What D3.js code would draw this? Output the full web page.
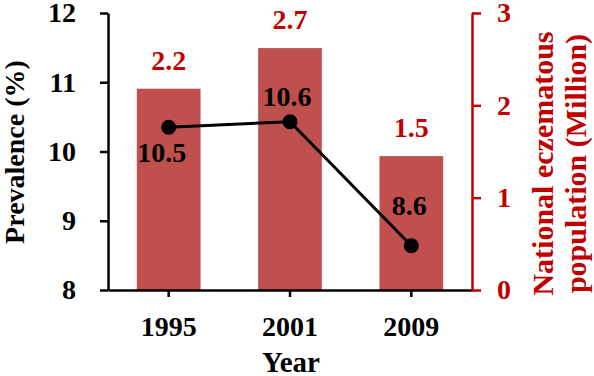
<!DOCTYPE html>
<html>
<head>
<meta charset="utf-8">
<script src="https://cdn.jsdelivr.net/npm/d3@7"></script>
<style>
  body { margin: 0; background: #fff; }
  svg { display: block; }
</style>
</head>
<body>
<div id="chart"></div>
<script>
// data
const years = ['1995', '2001', '2009'];
const population = [2.18, 2.62, 1.45];          // million, bars (right axis)
const populationLabels = ['2.2', '2.7', '1.5'];
const prevalence = [10.35, 10.43, 8.64];         // %, line (left axis)
const prevalenceLabels = ['10.5', '10.6', '8.6'];
const leftTicks = [8, 9, 10, 11, 12];
const rightTicks = [0, 1, 2, 3];

const width = 594;
const height = 376;
const margin = { top: 13, right: 122, bottom: 86, left: 108 };
const innerW = width - margin.left - margin.right;
const innerH = height - margin.top - margin.bottom;

const FONT = '"Liberation Serif"';
const barColor = '#c0504d';
const darkRed = '#c00000';

const svg = d3.select('#chart')
  .append('svg')
  .attr('width', width)
  .attr('height', height);

const g = svg.append('g')
  .attr('transform', `translate(${margin.left},${margin.top})`);

const serif = (sel, size) => sel
  .style('font-family', FONT)
  .style('font-weight', 'bold')
  .style('font-size', size + 'px');

const x = d3.scaleBand()
  .domain(years)
  .range([0, innerW])
  .padding(0);

const yL = d3.scaleLinear().domain([8, 12]).range([innerH, 0]);
const yR = d3.scaleLinear().domain([0, 3]).range([innerH, 0]);

const barW = x.bandwidth() * 0.525;

// bars
g.selectAll('.bar')
  .data(years)
  .enter().append('rect')
  .attr('class', 'bar')
  .attr('x', d => x(d) + (x.bandwidth() - barW) / 2)
  .attr('width', barW)
  .attr('y', (d, i) => yR(population[i]))
  .attr('height', (d, i) => innerH - yR(population[i]))
  .attr('fill', barColor);

// bar value labels
g.selectAll('.bar-label')
  .data(years)
  .enter().append('text')
  .attr('x', d => x(d) + x.bandwidth() / 2)
  .attr('y', (d, i) => yR(population[i]) - 19)
  .attr('text-anchor', 'middle')
  .attr('fill', darkRed)
  .call(serif, 28)
  .text((d, i) => populationLabels[i]);

// axes
const styleAxis = (sel, color) => {
  sel.attr('font-family', null).attr('font-size', null);
  sel.select('.domain').attr('stroke', color).attr('stroke-width', 2.5);
  sel.selectAll('.tick line').attr('stroke', color).attr('stroke-width', 2.5);
  sel.selectAll('.tick text')
    .attr('fill', color)
    .call(serif, 28);
};

const xAxis = g.append('g')
  .attr('transform', `translate(0,${innerH})`)
  .call(d3.axisBottom(x).tickSize(7).tickSizeOuter(0).tickPadding(19));
styleAxis(xAxis, '#000');

const leftAxis = g.append('g')
  .call(d3.axisLeft(yL).tickValues(leftTicks).tickSize(8).tickSizeOuter(0).tickPadding(24).tickFormat(d3.format('d')));
styleAxis(leftAxis, '#000');

const rightAxis = g.append('g')
  .attr('transform', `translate(${innerW},0)`)
  .call(d3.axisRight(yR).tickValues(rightTicks).tickSize(9).tickSizeOuter(0).tickPadding(16).tickFormat(d3.format('d')));
styleAxis(rightAxis, darkRed);

// prevalence line
const line = d3.line()
  .x((d, i) => x(years[i]) + x.bandwidth() / 2)
  .y(d => yL(d));

g.append('path')
  .datum(prevalence)
  .attr('fill', 'none')
  .attr('stroke', '#000')
  .attr('stroke-width', 3)
  .attr('d', line);

g.selectAll('.dot')
  .data(prevalence)
  .enter().append('circle')
  .attr('cx', (d, i) => x(years[i]) + x.bandwidth() / 2)
  .attr('cy', d => yL(d))
  .attr('r', 7.5)
  .attr('fill', '#000');

// line labels: first sits below its point, the others above
const lineLabelDy = [35, -16, -31];
const lineLabelDx = [-7, -3, -2];
g.selectAll('.line-label')
  .data(prevalence)
  .enter().append('text')
  .attr('x', (d, i) => x(years[i]) + x.bandwidth() / 2 + lineLabelDx[i])
  .attr('y', (d, i) => yL(d) + lineLabelDy[i])
  .attr('text-anchor', 'middle')
  .attr('fill', '#000')
  .call(serif, 28)
  .text((d, i) => prevalenceLabels[i]);

// axis titles
svg.append('text')
  .attr('transform', 'translate(24,152) rotate(-90)')
  .attr('text-anchor', 'middle')
  .call(serif, 28)
  .text('Prevalence (%)');

svg.append('text')
  .attr('x', margin.left + innerW / 2 + 1)
  .attr('y', 372)
  .attr('text-anchor', 'middle')
  .call(serif, 29)
  .text('Year');

const rightTitle = svg.append('text')
  .attr('transform', `translate(553,${margin.top + innerH / 2 + 12}) rotate(-90)`)
  .attr('text-anchor', 'middle')
  .attr('fill', darkRed)
  .call(serif, 30);
rightTitle.append('tspan').attr('x', 0).attr('y', 0).text('National  eczematous');
rightTitle.append('tspan').attr('x', 0).attr('y', 33).text('population (Million)');
</script>
</body>
</html>
